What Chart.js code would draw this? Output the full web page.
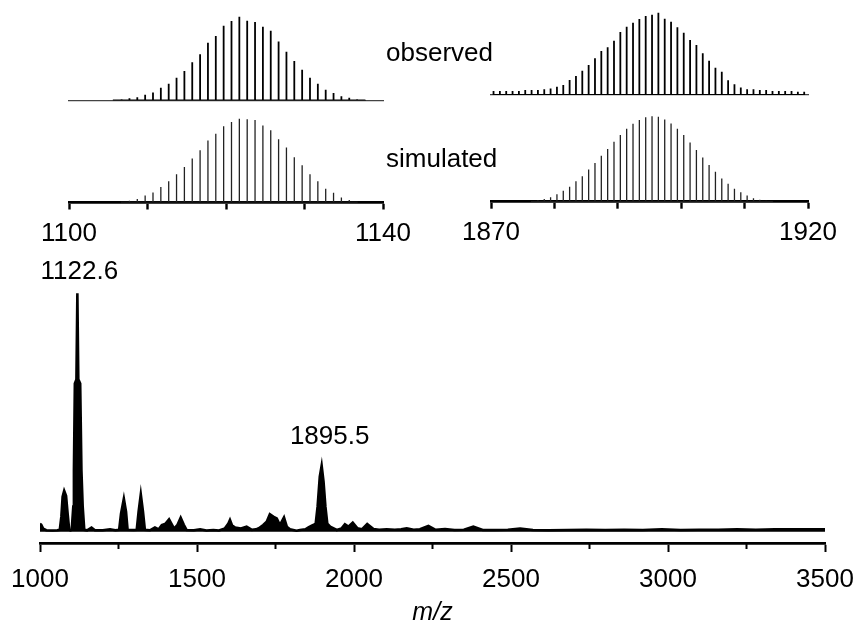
<!DOCTYPE html>
<html>
<head>
<meta charset="utf-8">
<script src="https://cdn.jsdelivr.net/npm/chart.js@4.4.1/dist/chart.umd.min.js"></script>
<style>
  html, body { margin: 0; padding: 0; background: #fff; }
  #wrap { position: relative; width: 859px; height: 628px; overflow: hidden; }
  canvas { position: absolute; }
  .lbl { position: absolute; font: 26px "Liberation Sans", Arial, sans-serif; color: #000; line-height: 1; white-space: nowrap; }
</style>
</head>
<body>
<div id="wrap">
  <canvas id="main" width="859" height="628" style="left:0;top:0"></canvas>
  <canvas id="tlObs" width="380" height="110" style="left:40px;top:0"></canvas>
  <canvas id="tlSim" width="380" height="150" style="left:40px;top:110px"></canvas>
  <canvas id="trObs" width="390" height="110" style="left:460px;top:0"></canvas>
  <canvas id="trSim" width="390" height="150" style="left:460px;top:110px"></canvas>
  <div class="lbl" style="left:386px;top:39px">observed</div>
  <div class="lbl" style="left:386px;top:145px">simulated</div>
</div>
<script>
// full spectrum, m/z vs relative intensity (%)
const mainMz = [
  1000, 1004, 1010, 1020, 1040, 1055, 1063, 1068, 1072, 1077,
  1083, 1088, 1093, 1097, 1101, 1106, 1108, 1111, 1116, 1119,
  1122, 1128, 1132, 1136, 1141, 1150, 1164, 1175, 1200, 1223,
  1240, 1252, 1258, 1267, 1274, 1279, 1299, 1308, 1314, 1321,
  1328, 1334, 1350, 1366, 1378, 1388, 1400, 1411, 1427, 1438,
  1448, 1458, 1467, 1490, 1510, 1530, 1552, 1570, 1589, 1600,
  1605, 1612, 1621, 1640, 1658, 1675, 1688, 1700, 1711, 1722,
  1732, 1743, 1754, 1764, 1777, 1786, 1796, 1817, 1828, 1845,
  1855, 1870, 1878, 1884, 1891, 1897, 1903, 1909, 1915, 1924,
  1945, 1960, 1971, 1982, 1996, 2011, 2025, 2042, 2062, 2080,
  2104, 2130, 2150, 2168, 2190, 2210, 2237, 2260, 2290, 2320,
  2350, 2380, 2410, 2450, 2490, 2529, 2570, 2620, 2680, 2740,
  2800, 2860, 2920, 2980, 3040, 3100, 3160, 3220, 3280, 3340,
  3400, 3460, 3500
];
const mainIntensity = [
  3.4, 2.9, 1.3, 0.6, 0.5, 0.6, 0.8, 6.3, 14.7, 17.2,
  15.1, 7.6, 0.8, 0.6, 0.8, 10.5, 25.6, 62.2, 63.9, 100,
  63.9, 62.2, 25.6, 10.5, 0.8, 0.6, 1.7, 0.6, 0.6, 1.0,
  0.6, 0.8, 7.6, 13.9, 8.4, 0.8, 0.7, 0.8, 8.4, 15.7,
  8.4, 0.8, 0.6, 1.8, 1.0, 2.8, 3.4, 5.2, 1.3, 2.9,
  5.9, 2.9, 0.7, 0.6, 1.0, 0.5, 0.7, 0.5, 1.4, 3.4,
  4.9, 2.5, 1.8, 1.3, 2.1, 0.8, 1.0, 1.7, 2.8, 4.2,
  7.3, 6.3, 5.6, 2.8, 6.0, 2.1, 1.0, 0.4, 0.7, 1.0,
  1.8, 2.8, 3.4, 10.5, 23.1, 27.7, 21.0, 10.5, 3.4, 2.1,
  0.7, 1.3, 3.1, 2.1, 3.8, 1.4, 1.0, 3.2, 1.1, 0.8,
  1.0, 0.8, 1.0, 1.4, 0.8, 1.0, 2.4, 0.8, 1.1, 0.7,
  0.8, 2.1, 0.7, 0.7, 0.8, 1.3, 0.7, 0.6, 0.7, 0.8,
  0.7, 0.8, 0.7, 1.0, 0.7, 0.8, 0.8, 1.0, 0.8, 1.0,
  1.0, 1.0, 1.0
];
const mainTickLabels = [1000, 1500, 2000, 2500, 3000, 3500];
const peakLabels = ["1122.6", "1895.5"];
const peakLabelMz = [1119, 1897];

// isotope pattern around 1122.6
const lowObsMz = [
  1105.7, 1106.7, 1107.7, 1108.7, 1109.7, 1110.7, 1111.7, 1112.7, 1113.7, 1114.7, 1115.7,
  1116.7, 1117.7, 1118.7, 1119.7, 1120.7, 1121.7, 1122.7, 1123.7, 1124.7, 1125.7, 1126.7,
  1127.7, 1128.7, 1129.7, 1130.7, 1131.7, 1132.7, 1133.7, 1134.7, 1135.7, 1136.7, 1137.7
];
const lowObsInt = [
  1.2, 1.6, 2.8, 4, 6.8, 9.6, 15.2, 20, 27.2, 35.2, 45.6,
  55.2, 68.8, 76.8, 89.2, 94.8, 100, 95.2, 93.6, 88, 83.2, 70.4,
  58, 47.2, 36.8, 27.2, 20, 12.8, 8.8, 5.2, 3.2, 1.6, 0.8
];
const lowSimMz = [
  1106.7, 1107.7, 1108.7, 1109.7, 1110.7, 1111.7, 1112.7, 1113.7, 1114.7, 1115.7, 1116.7,
  1117.7, 1118.7, 1119.7, 1120.7, 1121.7, 1122.7, 1123.7, 1124.7, 1125.7, 1126.7, 1127.7,
  1128.7, 1129.7, 1130.7, 1131.7, 1132.7, 1133.7, 1134.7, 1135.7, 1136.7
];
const lowSimInt = [
  0.8, 2, 4.1, 8.2, 11.9, 18.4, 25.4, 33.6, 42.2, 52.5, 62.3,
  73.8, 82, 91, 95.9, 100, 99.2, 98.4, 91.8, 86.1, 75.4, 65.6,
  54.1, 44.3, 33.6, 25.4, 16.4, 11.5, 6.1, 2.9, 0.8
];

// isotope pattern around 1895.5
const highObsMz = [
  1870.4, 1871.4, 1872.4, 1873.4, 1874.4, 1875.4, 1876.4, 1877.4, 1878.4, 1879.4,
  1880.4, 1881.4, 1882.4, 1883.4, 1884.4, 1885.4, 1886.4, 1887.4, 1888.4, 1889.4,
  1890.4, 1891.4, 1892.4, 1893.4, 1894.4, 1895.4, 1896.4, 1897.4, 1898.4, 1899.4,
  1900.4, 1901.4, 1902.4, 1903.4, 1904.4, 1905.4, 1906.4, 1907.4, 1908.4, 1909.4,
  1910.4, 1911.4, 1912.4, 1913.4, 1914.4, 1915.4, 1916.4, 1917.4, 1918.4, 1919.4
];
const highObsInt = [
  5, 5, 5, 5, 5, 6, 6, 6, 7, 8,
  10, 12, 18.2, 23.1, 29.6, 36.4, 44.5, 53.4, 57.9, 66,
  76.5, 83, 87.9, 92.3, 96, 97.6, 100, 92.7, 89.1, 82.2,
  75.7, 66.8, 60.7, 50.6, 41.7, 33.2, 28.3, 18, 13, 9,
  7, 7, 6, 6, 5, 5, 5, 5, 4, 4
];
const highSimMz = [
  1876.4, 1877.4, 1878.4, 1879.4, 1880.4, 1881.4, 1882.4, 1883.4, 1884.4, 1885.4,
  1886.4, 1887.4, 1888.4, 1889.4, 1890.4, 1891.4, 1892.4, 1893.4, 1894.4, 1895.4,
  1896.4, 1897.4, 1898.4, 1899.4, 1900.4, 1901.4, 1902.4, 1903.4, 1904.4, 1905.4,
  1906.4, 1907.4, 1908.4, 1909.4, 1910.4, 1911.4, 1912.4, 1913.4, 1914.4
];
const highSimInt = [
  0.8, 1.6, 3.2, 5.2, 8.8, 12.7, 17.5, 23.9, 29.9, 37.8,
  45.4, 53.8, 61.8, 70.1, 78.1, 85.3, 91.2, 95.6, 98.8, 100,
  99.6, 96.4, 91.6, 85.3, 78.1, 69.3, 60.6, 51.8, 43, 35.1,
  27.1, 21.1, 15.1, 11.2, 7.2, 4, 2.4, 1.2, 0.4
];

const FONT = "'Liberation Sans', Arial, Helvetica, sans-serif";
Chart.defaults.font.family = FONT;
Chart.defaults.color = "#000";

function sticks(mz, inten) {
  const pts = [];
  mz.forEach((m, i) => {
    pts.push({ x: m, y: 0 }, { x: m, y: inten[i] }, { x: m, y: 0 });
  });
  return pts;
}

// fixed axis box: no extra side padding for the end labels
function fixAxis(height) {
  return s => {
    s.height = height;
    s.paddingLeft = 0;
    s.paddingRight = 0;
  };
}

const peakLabelPlugin = {
  id: "peakLabels",
  afterDatasetsDraw(chart) {
    const { ctx, scales } = chart;
    const offsets = [[2, -21], [8, -29]];
    ctx.save();
    ctx.font = "26px " + FONT;
    ctx.fillStyle = "#000";
    ctx.textAlign = "center";
    ctx.textBaseline = "middle";
    peakLabels.forEach((txt, i) => {
      const idx = mainMz.indexOf(peakLabelMz[i]);
      const x = scales.x.getPixelForValue(peakLabelMz[i]) + offsets[i][0];
      const y = scales.y.getPixelForValue(mainIntensity[idx]) + offsets[i][1];
      ctx.fillText(txt, x, y);
    });
    ctx.restore();
  },
};

// minor ticks (every 250 between labelled ones) are a bit shorter
const minorTickPlugin = {
  id: "minorTicks",
  afterDraw(chart) {
    const { ctx } = chart;
    const sx = chart.scales.x;
    ctx.save();
    ctx.strokeStyle = "#000";
    ctx.lineWidth = 2;
    sx.ticks.forEach(t => {
      if (mainTickLabels.includes(t.value)) return;
      const x = sx.getPixelForValue(t.value);
      ctx.beginPath();
      ctx.moveTo(x, sx.top);
      ctx.lineTo(x, sx.top + 6);
      ctx.stroke();
    });
    ctx.restore();
  },
};

new Chart(document.getElementById("main"), {
  type: "line",
  data: {
    datasets: [{
      data: mainMz.map((m, i) => ({ x: m, y: mainIntensity[i] })),
      borderColor: "#000",
      backgroundColor: "#000",
      borderWidth: 2.6,
      pointRadius: 0,
      tension: 0,
      fill: "origin",
    }],
  },
  options: {
    responsive: false,
    animation: false,
    events: [],
    layout: { padding: { left: 40, right: 34, top: 281.4, bottom: 0 } },
    plugins: { legend: { display: false }, tooltip: { enabled: false } },
    scales: {
      x: {
        type: "linear",
        min: 1000,
        max: 3500,
        border: { display: true, color: "#000", width: 2.8 },
        grid: {
          drawOnChartArea: false,
          drawTicks: true,
          tickLength: 9,
          tickWidth: 2,
          tickColor: c => (c.tick && !mainTickLabels.includes(c.tick.value) ? "rgba(0,0,0,0)" : "#000"),
        },
        ticks: {
          stepSize: 250,
          autoSkip: false,
          maxRotation: 0,
          padding: 12,
          color: "#000",
          font: { size: 26 },
          callback: v => (mainTickLabels.includes(v) ? String(v) : ""),
        },
        title: { display: true, text: "m/z", color: "#000", font: { size: 25, style: "italic" }, padding: { top: 0, bottom: 0 } },
        afterFit: fixAxis(85),
      },
      y: { display: false, min: -4.74, max: 105 },
    },
  },
  plugins: [peakLabelPlugin, minorTickPlugin],
});

function insetChart(id, mz, inten, cfg) {
  const simulated = cfg.axis;
  return new Chart(document.getElementById(id), {
    type: "scatter",
    data: {
      datasets: [{
        data: sticks(mz, inten),
        showLine: true,
        borderColor: simulated ? "#222" : "#000",
        borderWidth: simulated ? 1.3 : 1.8,
        pointRadius: 0,
        tension: 0,
      }],
    },
    options: {
      responsive: false,
      animation: false,
      events: [],
      layout: { padding: cfg.padding },
      plugins: { legend: { display: false }, tooltip: { enabled: false } },
      scales: {
        x: {
          type: "linear",
          min: cfg.min,
          max: cfg.max,
          border: simulated ? { display: true, color: "#000", width: 2.8 } : { display: true, color: "#444", width: 1.3 },
          grid: simulated
            ? { drawOnChartArea: false, drawTicks: true, tickLength: 7, tickWidth: 2.4, tickColor: "#000" }
            : { display: false, drawTicks: false },
          ticks: simulated
            ? {
                stepSize: 10,
                autoSkip: false,
                maxRotation: 0,
                padding: 9,
                color: "#000",
                font: { size: 26 },
                callback: v => (v === cfg.min || v === cfg.max ? String(v) : ""),
              }
            : { display: false },
          afterFit: fixAxis(cfg.axisHeight),
        },
        y: { display: false, min: 0, max: 104 },
      },
    },
  });
}

insetChart("tlObs", lowObsMz, lowObsInt, {
  min: 1100, max: 1140, axis: false, axisHeight: 0,
  padding: { left: 29, right: 37, top: 13.3, bottom: 9.5 },
});
insetChart("tlSim", lowSimMz, lowSimInt, {
  min: 1100, max: 1140, axis: true, axisHeight: 57.5,
  padding: { left: 29, right: 37, top: 5.3, bottom: 0 },
});
insetChart("trObs", highObsMz, highObsInt, {
  min: 1870, max: 1920, axis: false, axisHeight: 0,
  padding: { left: 31, right: 42, top: 9.4, bottom: 15 },
});
insetChart("trSim", highSimMz, highSimInt, {
  min: 1870, max: 1920, axis: true, axisHeight: 58.3,
  padding: { left: 31, right: 42, top: 2.9, bottom: 0 },
});
</script>
</body>
</html>
